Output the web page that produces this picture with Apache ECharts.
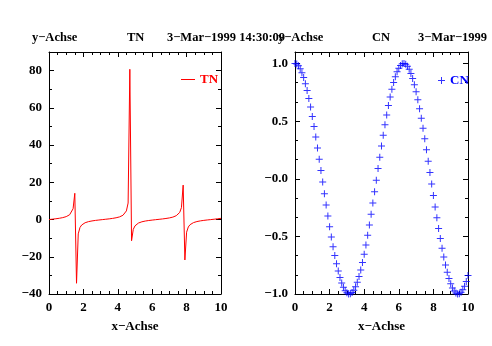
<!DOCTYPE html>
<html>
<head>
<meta charset="utf-8">
<script src="https://cdn.jsdelivr.net/npm/echarts@6/dist/echarts.min.js"></script>
<style>
  html, body { margin: 0; padding: 0; background: #fff; }
  #chart { width: 492px; height: 346px; }
</style>
</head>
<body>
<div id="chart"></div>
<script>
// Sample positions shared by both panels
const xSamples = [
  0.0, 0.1, 0.2, 0.3, 0.4, 0.5, 0.6, 0.7, 0.8, 0.9,
  1.0, 1.1, 1.2, 1.3, 1.4, 1.5, 1.6, 1.7, 1.8, 1.9,
  2.0, 2.1, 2.2, 2.3, 2.4, 2.5, 2.6, 2.7, 2.8, 2.9,
  3.0, 3.1, 3.2, 3.3, 3.4, 3.5, 3.6, 3.7, 3.8, 3.9,
  4.0, 4.1, 4.2, 4.3, 4.4, 4.5, 4.6, 4.7, 4.8, 4.9,
  5.0, 5.1, 5.2, 5.3, 5.4, 5.5, 5.6, 5.7, 5.8, 5.9,
  6.0, 6.1, 6.2, 6.3, 6.4, 6.5, 6.6, 6.7, 6.8, 6.9,
  7.0, 7.1, 7.2, 7.3, 7.4, 7.5, 7.6, 7.7, 7.8, 7.9,
  8.0, 8.1, 8.2, 8.3, 8.4, 8.5, 8.6, 8.7, 8.8, 8.9,
  9.0, 9.1, 9.2, 9.3, 9.4, 9.5, 9.6, 9.7, 9.8, 9.9,
  10.0
];

// TN values (left panel)
const tnValues = [
  0.00, 0.10, 0.20, 0.31, 0.42, 0.55, 0.68, 0.84, 1.03, 1.26,
  1.56, 1.96, 2.57, 3.60, 5.80, 14.10, -34.23, -7.70, -4.29, -2.93,
  -2.19, -1.71, -1.37, -1.12, -0.92, -0.75, -0.60, -0.47, -0.36, -0.25,
  -0.14, -0.04, 0.06, 0.16, 0.26, 0.37, 0.49, 0.62, 0.77, 0.95,
  1.16, 1.42, 1.78, 2.29, 3.10, 4.64, 8.86, 80.71, -11.39, -5.27,
  -3.38, -2.45, -1.89, -1.50, -1.21, -1.00, -0.81, -0.66, -0.52, -0.40,
  -0.29, -0.19, -0.08, 0.02, 0.12, 0.22, 0.33, 0.44, 0.57, 0.71,
  0.87, 1.07, 1.30, 1.62, 2.07, 2.71, 3.83, 6.42, 18.50, -21.72,
  -6.80, -3.98, -2.77, -2.09, -1.65, -1.32, -1.08, -0.89, -0.72, -0.58,
  -0.45, -0.34, -0.23, -0.13, -0.03, 0.07, 0.17, 0.28, 0.39, 0.51,
  0.65
];

// CN values (right panel)
const cnValues = [
  1.000, 0.995, 0.980, 0.955, 0.921, 0.878, 0.825, 0.765, 0.697, 0.622,
  0.540, 0.454, 0.362, 0.268, 0.170, 0.071, -0.029, -0.129, -0.227, -0.323,
  -0.416, -0.505, -0.589, -0.666, -0.737, -0.801, -0.857, -0.904, -0.942, -0.971,
  -0.990, -0.999, -0.998, -0.988, -0.967, -0.937, -0.897, -0.848, -0.791, -0.726,
  -0.654, -0.575, -0.490, -0.401, -0.307, -0.211, -0.112, -0.012, 0.088, 0.187,
  0.284, 0.378, 0.469, 0.554, 0.635, 0.709, 0.776, 0.835, 0.886, 0.928,
  0.960, 0.983, 0.997, 1.000, 0.993, 0.977, 0.950, 0.914, 0.869, 0.816,
  0.754, 0.685, 0.608, 0.526, 0.439, 0.347, 0.251, 0.153, 0.054, -0.046,
  -0.146, -0.244, -0.339, -0.431, -0.519, -0.602, -0.679, -0.749, -0.811, -0.865,
  -0.911, -0.948, -0.975, -0.992, -1.000, -0.998, -0.985, -0.963, -0.932, -0.891,
  -0.839
];

// Axis tick labels
const xTickLabels = ['0', '2', '4', '6', '8', '10'];
const tnTickLabels = ['−40', '−20', '0', '20', '40', '60', '80'];
const cnTickLabels = ['−1.0', '−0.5', '−0.0', '0.5', '1.0'];

const FONT = '"Liberation Serif", "DejaVu Serif", serif';
const labelStyle = { color: '#000', fontFamily: FONT, fontWeight: 'bold', fontSize: 13 };
const headFont = 'bold 12.5px ' + FONT;

function pairs(xs, ys) {
  return xs.map((x, i) => [x, ys[i]]);
}

function labelFrom(list, min, step) {
  return function (v) {
    const i = Math.round((v - min) / step);
    return list[i] !== undefined && Math.abs(min + i * step - v) < 1e-6 ? list[i] : '';
  };
}

function valueAxis(gridIndex, position, min, max, interval, minorSplit, showLabels, formatter, extra) {
  return Object.assign({
    type: 'value',
    gridIndex: gridIndex,
    position: position,
    min: min,
    max: max,
    interval: interval,
    axisLine: { show: true, onZero: false, lineStyle: { color: '#000', width: 1 } },
    axisTick: { show: true, inside: true, length: 5, lineStyle: { color: '#000', width: 1 } },
    minorTick: { show: true, splitNumber: minorSplit, length: 3, lineStyle: { color: '#000', width: 1 } },
    splitLine: { show: false },
    minorSplitLine: { show: false },
    axisLabel: showLabels
      ? Object.assign({ show: true, margin: 7, showMinLabel: true, showMaxLabel: true, formatter: formatter }, labelStyle)
      : { show: false }
  }, extra || {});
}

// Plus-shaped marker, 1px arms at 7px size
const PLUS = 'path://M3,0 H4 V3 H7 V4 H4 V7 H3 V4 H0 V3 H3 Z';

const xName = {
  name: 'x−Achse', nameLocation: 'middle', nameGap: 26,
  nameTextStyle: labelStyle
};

const option = {
  animation: false,
  backgroundColor: '#fff',
  grid: [
    { left: 49, top: 52, width: 172, height: 242, show: false },
    { left: 295, top: 52, width: 173, height: 242, show: false }
  ],
  xAxis: [
    valueAxis(0, 'bottom', 0, 10, 2, 4, true, labelFrom(xTickLabels, 0, 2), Object.assign({}, xName)),
    valueAxis(0, 'top', 0, 10, 2, 4, false),
    valueAxis(1, 'bottom', 0, 10, 2, 4, true, labelFrom(xTickLabels, 0, 2), Object.assign({}, xName)),
    valueAxis(1, 'top', 0, 10, 2, 4, false)
  ],
  yAxis: [
    valueAxis(0, 'left', -40, 90, 20, 2, true, labelFrom(tnTickLabels, -40, 20)),
    valueAxis(0, 'right', -40, 90, 20, 2, false),
    valueAxis(1, 'left', -1, 1.1, 0.5, 3, true, labelFrom(cnTickLabels, -1, 0.5)),
    valueAxis(1, 'right', -1, 1.1, 0.5, 3, false)
  ],
  legend: [
    {
      left: 176, top: 68,
      itemWidth: 14, itemHeight: 1, itemGap: 4,
      icon: 'rect',
      data: [{ name: 'TN', textStyle: Object.assign({}, labelStyle, { color: '#ff0000' }) }],
      textStyle: labelStyle
    },
    {
      left: 433, top: 69,
      itemWidth: 7, itemHeight: 7, itemGap: 4,
      data: [{ name: 'CN', icon: PLUS, textStyle: Object.assign({}, labelStyle, { color: '#0000ff' }) }],
      textStyle: labelStyle
    }
  ],
  graphic: [
    { type: 'text', left: 278, top: 31, style: { text: 'y−Achse', font: headFont, fill: '#000' } },
    { type: 'text', left: 372, top: 31, style: { text: 'CN', font: headFont, fill: '#000' } },
    { type: 'text', left: 418, top: 31, style: { text: '3−Mar−1999', font: headFont, fill: '#000' } },
    { type: 'text', left: 32, top: 31, style: { text: 'y−Achse', font: headFont, fill: '#000' } },
    { type: 'text', left: 127, top: 31, style: { text: 'TN', font: headFont, fill: '#000' } },
    { type: 'text', left: 167, top: 31, style: { text: '3−Mar−1999 14:30:09', font: headFont, fill: '#000' } }
  ],
  series: [
    {
      name: 'TN',
      type: 'line',
      xAxisIndex: 0,
      yAxisIndex: 0,
      data: pairs(xSamples, tnValues),
      showSymbol: false,
      symbol: 'none',
      clip: true,
      lineStyle: { color: '#ff0000', width: 1 },
      itemStyle: { color: '#ff0000' }
    },
    {
      name: 'CN',
      type: 'scatter',
      xAxisIndex: 2,
      yAxisIndex: 2,
      data: pairs(xSamples, cnValues),
      symbol: PLUS,
      symbolSize: 7,
      clip: true,
      itemStyle: { color: '#0000ff' }
    }
  ]
};

const chart = echarts.init(document.getElementById('chart'), null, { renderer: 'canvas' });
chart.setOption(option);
</script>
</body>
</html>
